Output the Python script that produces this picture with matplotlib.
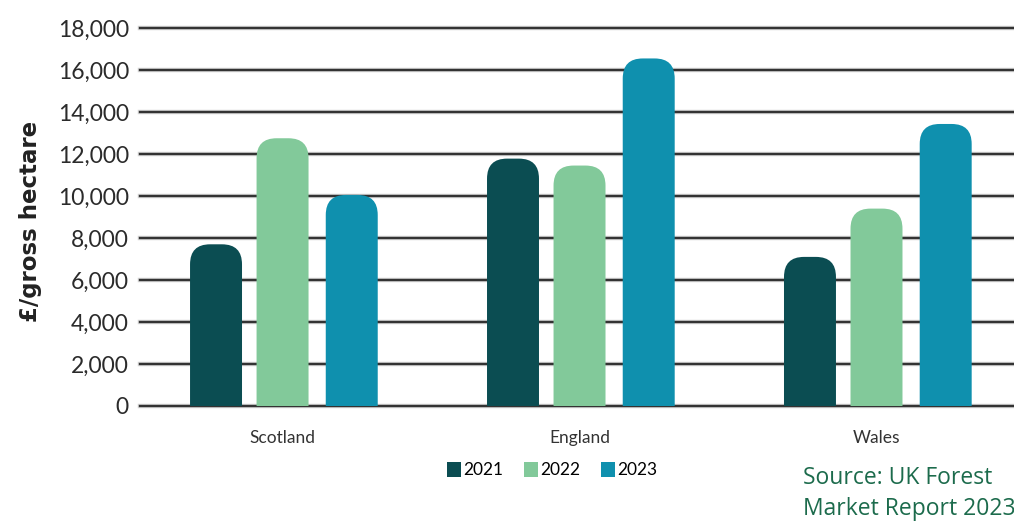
import matplotlib
matplotlib.use("Agg")
import matplotlib.pyplot as plt
from matplotlib.patches import FancyBboxPatch, Patch

regions = ["Scotland", "England", "Wales"]
years = ["2021", "2022", "2023"]
values_2021 = [7700, 11780, 7100]
values_2022 = [12750, 11450, 9400]
values_2023 = [10050, 16550, 13430]
yticks = [0, 2000, 4000, 6000, 8000, 10000, 12000, 14000, 16000, 18000]
colors = ["#0b4d52", "#82c99a", "#0f90ae"]

W, H = 1014, 522
fig = plt.figure(figsize=(W / 100, H / 100), dpi=100)
ax_l, ax_r, ax_b, ax_t = 140, 1014, 406, 28
ax = fig.add_axes([ax_l / W, 1 - ax_b / H, (ax_r - ax_l) / W, (ax_b - ax_t) / H])

xmin, xmax = -0.48, 2.463
ymin, ymax = 0, 18000
ax.set_xlim(xmin, xmax)
ax.set_ylim(ymin, ymax)

# gridlines
for t in yticks:
    ax.axhline(t, color="#333333", lw=1.7, zorder=1, clip_on=False)
    ax.axhline(t, color="#8a8a8a", lw=3.2, alpha=0.35, zorder=0.9, clip_on=False)

offsets = [-0.224, 0.0, 0.233]
bw = 0.175
px_x = (xmax - xmin) / (ax_r - ax_l)
px_y = (ymax - ymin) / (ax_b - ax_t)
aspect = px_y / px_x
r = 20 * px_x
ry = r * aspect

series = [values_2021, values_2022, values_2023]
for i, vals in enumerate(series):
    xs = [g + offsets[i] for g in range(len(regions))]
    bars = ax.bar(xs, vals, width=bw, color=colors[i], zorder=2)
    for b in bars:
        x0, y0, w, h = b.get_x(), b.get_y(), b.get_width(), b.get_height()
        b.set_visible(False)
        p = FancyBboxPatch((x0, y0 - 2 * ry), w, h + 2 * ry,
                           boxstyle=f"round,pad=0,rounding_size={r}",
                           mutation_aspect=aspect,
                           facecolor=colors[i], edgecolor="none", zorder=2)
        p.set_clip_on(True)
        ax.add_patch(p)

for s in ax.spines.values():
    s.set_visible(False)

ax.set_yticks(yticks)
ax.set_yticklabels([f"{t:,}" for t in yticks], fontfamily="Lato", fontsize=16.5,
                   color="#2b2b2b")
ax.tick_params(axis="y", length=0, pad=8)
ax.set_xticks(range(len(regions)))
ax.set_xticklabels(regions, fontfamily="Lato", fontsize=12.5, color="#333333")
ax.tick_params(axis="x", length=0, pad=17)

fig.text(31 / W, 1 - 221 / H, "£/gross hectare", rotation=90, ha="center",
         va="center", fontsize=16.5, fontweight="bold", fontfamily="DejaVu Sans",
         color="#222222")

handles = [Patch(facecolor=c, edgecolor="none") for c in colors]
fig.legend(handles, years, loc="center", bbox_to_anchor=(552 / W, 1 - 470 / H),
           ncol=3, frameon=False, handlelength=0.8, handleheight=1.0,
           handletextpad=0.12, columnspacing=1.2,
           prop={"family": "Lato", "size": 12.5})

fig.text(803 / W, 1 - 478 / H, "Source: UK Forest", ha="left", va="center",
         fontsize=16.5, fontfamily="Open Sans", color="#1c6b4c")
fig.text(803 / W, 1 - 509 / H, "Market Report 2023", ha="left", va="center",
         fontsize=16.5, fontfamily="Open Sans", color="#1c6b4c")

fig.savefig("out.png", dpi=100)
